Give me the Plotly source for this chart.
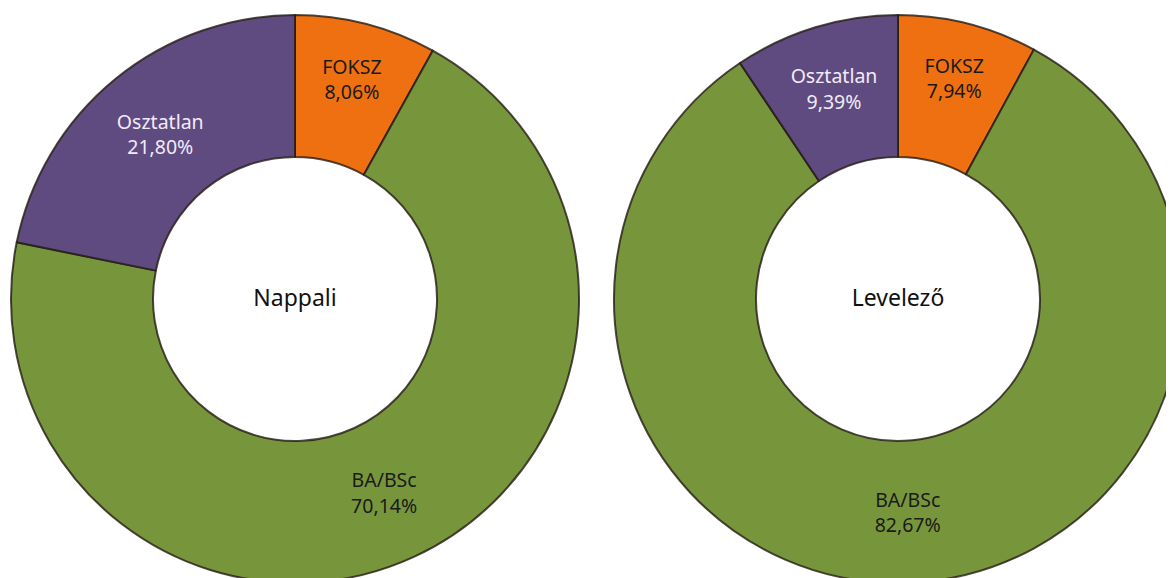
import plotly.graph_objects as go

labels = ["FOKSZ", "BA/BSc", "Osztatlan"]
nappali = [8.06, 70.14, 21.80]
levelezo = [7.94, 82.67, 9.39]
titles = ["Nappali", "Levelező"]

colors = ["#EE7010", "#77963C", "#5F4B7F"]
text_colors = ["#1a1a1a", "#1a1a1a", "#F2EAF8"]
font = "Noto Sans"

# page body keeps its 8px margin, so the figure is a bit larger than the window
W, H = 1180, 590

fig = go.Figure()

domains = [
    dict(x=[3 / W, 571 / W], y=[15 / H, 583 / H]),
    dict(x=[606 / W, 1174 / W], y=[15 / H, 583 / H]),
]

for vals, title, dom in zip([nappali, levelezo], titles, domains):
    fig.add_trace(go.Pie(
        labels=labels,
        values=vals,
        hole=0.5,
        sort=False,
        direction="clockwise",
        rotation=0,
        domain=dom,
        marker=dict(colors=colors, line=dict(color="rgba(35,28,20,0.8)", width=2)),
        texttemplate="%{label}<br>%{percent:.2%}",
        textposition="inside",
        insidetextorientation="horizontal",
        textfont=dict(family=font, size=19.5, color=text_colors),
        title=dict(text=title, position="middle center",
                   font=dict(family=font, size=23, color="#111111")),
        showlegend=False,
        hoverinfo="label+percent",
    ))

fig.update_layout(
    width=W,
    height=H,
    margin=dict(l=0, r=0, t=0, b=0),
    paper_bgcolor="white",
    plot_bgcolor="white",
    separators=", ",
    font=dict(family=font),
)

fig.write_html("out.html")
